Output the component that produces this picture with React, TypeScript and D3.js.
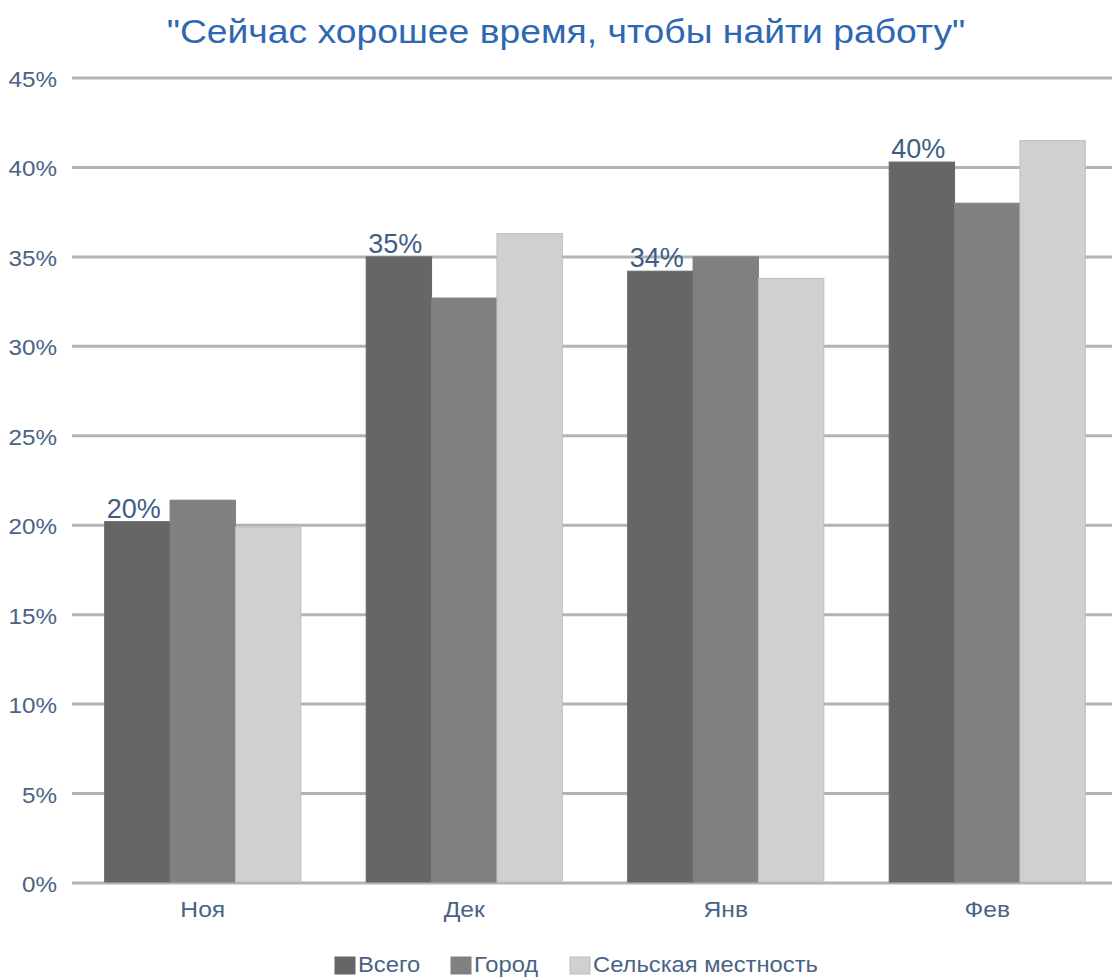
import React from "react";
import * as d3 from "d3";

const categories = ["Ноя", "Дек", "Янв", "Фев"];
const seriesNames = ["Всего", "Город", "Сельская местность"];
const vsego = [20.2, 35.0, 34.2, 40.3];
const gorod = [21.4, 32.7, 35.0, 38.0];
const selskaya = [19.9, 36.3, 33.8, 41.5];
const yTicks = [0, 5, 10, 15, 20, 25, 30, 35, 40, 45];
const dataLabels = ["20%", "35%", "34%", "40%"];
const colors = ["#666666", "#808080", "#d0d0d0"];

const W = 1112;
const H = 978;
const FONT = "'Liberation Sans', Arial, sans-serif";
const TEXT = "#4a6385";

function T(props: { x: number; y: number; size: number; sx?: number; anchor?: string; fill: string; children: React.ReactNode }) {
  const { x, y, size, sx = 1, anchor = "start", fill, children } = props;
  return (
    <text transform={`translate(${x},${y}) scale(${sx},1)`} fontSize={size} textAnchor={anchor} fill={fill}>
      {children}
    </text>
  );
}

export default function App() {
  const series = [vsego, gorod, selskaya];
  const x0 = d3.scaleBand<string>().domain(categories).range([72, 1118]).paddingInner(0.25).paddingOuter(0.125);
  const x1 = d3.scaleBand<number>().domain([0, 1, 2]).range([0, x0.bandwidth()]);
  const y = d3.scaleLinear().domain([0, 45]).range([883, 78]);

  const legendX = [335, 451, 570];

  return (
    <svg width={W} height={H} style={{ position: "absolute", left: 0, top: 0, background: "#fff" }} fontFamily={FONT}>
      <T x={566} y={43} size={33} sx={1.13} anchor="middle" fill="#2e67b2">
        "Сейчас хорошее время, чтобы найти работу"
      </T>
      {yTicks.map((t) => (
        <g key={t}>
          <line x1={72} x2={W} y1={y(t)} y2={y(t)} stroke="#b3b3b3" strokeWidth={3} />
          <T x={57} y={y(t) + 9} size={22} sx={1.1} anchor="end" fill={TEXT}>
            {t}%
          </T>
        </g>
      ))}
      {categories.map((c, i) => (
        <g key={c}>
          {series.map((s, j) => (
            <rect
              key={j}
              x={(x0(c) as number) + (x1(j) as number)}
              y={y(s[i])}
              width={x1.bandwidth()}
              height={y(0) - y(s[i]) - 1}
              fill={colors[j]}
              stroke={j === 2 ? "#bdbdbd" : colors[j]}
              strokeWidth={1}
            />
          ))}
          <T x={(x0(c) as number) + 2} y={y(vsego[i]) - 4} size={27} fill="#3e5e85">
            {dataLabels[i]}
          </T>
          <T x={(x0(c) as number) + x0.bandwidth() / 2} y={917} size={22} sx={1.12} anchor="middle" fill={TEXT}>
            {c}
          </T>
        </g>
      ))}
      {seriesNames.map((n, j) => (
        <g key={n}>
          <rect x={legendX[j]} y={957} width={20} height={17} fill={colors[j]} stroke={j === 2 ? "#bdbdbd" : colors[j]} />
          <T x={legendX[j] + 23} y={972} size={22} sx={1.08} fill={TEXT}>
            {n}
          </T>
        </g>
      ))}
    </svg>
  );
}
